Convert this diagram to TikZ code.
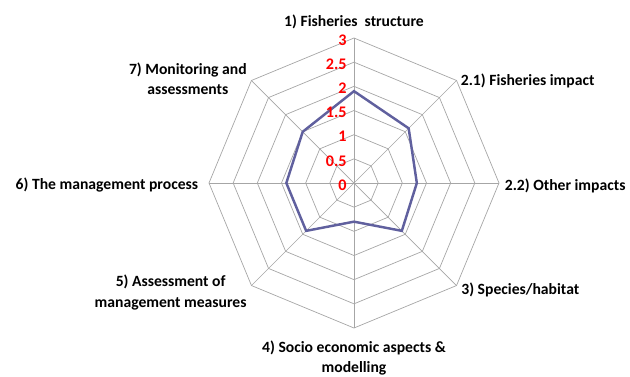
\documentclass[tikz,border=0pt]{standalone}
\usepackage{fontspec}
\setmainfont{Carlito}
\usetikzlibrary{positioning}

\definecolor{gridgray}{RGB}{166,166,166}
\definecolor{scoreblue}{RGB}{96,96,158}
\definecolor{tickred}{RGB}{255,0,0}

\begin{document}
\begin{tikzpicture}[
	grid/.style = {draw = gridgray, line width = 0.4pt},
	score/.style = {draw = scoreblue, line width = 1.4pt, line join = miter},
	lbl/.style = {font = \fontsize{8.9}{11.4}\selectfont\bfseries, align = center, inner sep = 0.05cm},
	tick/.style = {font = \fontsize{9.2}{11.4}\selectfont\bfseries, text = tickred, anchor = east, inner sep = 0.05cm}
]

	\useasboundingbox (-7.08, -3.86) rectangle (5.52, 3.66);

	% Centre and outer corners
	
	\coordinate (o) at (0, 0);
	\foreach \i in {1, ..., 8}
		\coordinate (v\i) at ({135 - 45 * \i} : 2.9);
	
	% Rings and spokes
	
	\foreach \r in {1, ..., 6}
		\draw [grid] (0 : {\r * 0.48333}) \foreach \a in {45, 90, ..., 315} { -- (\a : {\r * 0.48333}) } -- cycle;
	\foreach \i in {1, ..., 8}
		\draw [grid] (o) -- (v\i);
	
	% Scores
	
	\foreach \val [count = \i] in {1.9, 1.6, 1.3, 1.4, 0.8, 1.4, 1.4, 1.5}
		\coordinate (s\i) at ({135 - 45 * \i} : {\val * 0.96667});
	\draw [score] (s1) -- (s2) -- (s3) -- (s4) -- (s5) -- (s6) -- (s7) -- (s8) -- cycle;
	
	% Scale values
	
	\foreach \t [count = \k from 0] in {0, 0.5, 1, 1.5, 2, 2.5, 3}
		\node [tick] (t\k) at (-0.09, {\k * 0.48333 - 0.04}) {\t};
	
	% Axis labels
	
	\node [lbl, above = 0.12cm of v1] (l1) {1) Fisheries\ \ structure};
	\node [lbl, right = 0.03cm of v2] (l2) {2.1) Fisheries impact};
	\node [lbl, right = 0.06cm of v3, yshift = -0.06cm] (l3) {2.2) Other impacts};
	\node [lbl, right = 0.04cm of v4, yshift = -0.08cm] (l4) {3) Species/habitat};
	\node [lbl, below = 0.2cm of v5] (l5) {4) Socio economic aspects \&\\modelling};
	\node [lbl, left = 0.04cm of v6, yshift = -0.14cm] (l6) {5) Assessment of\\management measures};
	\node [lbl, left = 0.16cm of v7, yshift = -0.05cm] (l7) {6) The management process};
	\node [lbl, left = 0.04cm of v8, yshift = 0.04cm] (l8) {7) Monitoring and\\assessments};

\end{tikzpicture}
\end{document}
